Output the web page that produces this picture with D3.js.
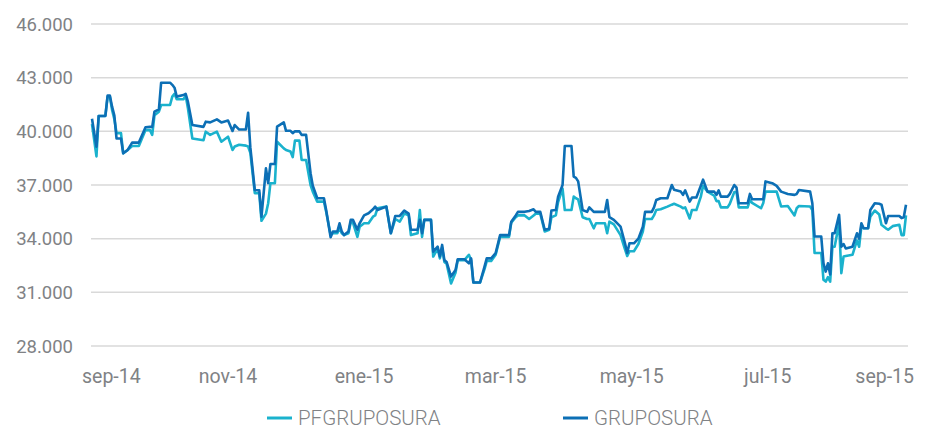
<!DOCTYPE html>
<html>
<head>
<meta charset="utf-8">
<script src="https://cdn.jsdelivr.net/npm/d3@7"></script>
<style>
  body { margin: 0; background: #fff; }
  svg { display: block; font-family: Roboto, "DejaVu Sans", sans-serif; }
  .grid line { stroke: #d9d9d9; stroke-width: 1.5; }
  .y-label { fill: #808285; font-size: 18.5px; }
  .x-label { fill: #808285; font-size: 19.5px; }
  .legend text { fill: #808285; font-size: 20.5px; font-weight: 300; }
</style>
</head>
<body>
<svg width="930" height="431"></svg>
<script>
// dates of the readings and the two price series (COP)
var dates = [
  "2014-09-01","2014-09-03","2014-09-04","2014-09-07","2014-09-08","2014-09-09","2014-09-10","2014-09-11","2014-09-12","2014-09-14",
  "2014-09-15","2014-09-17","2014-09-19","2014-09-22","2014-09-25","2014-09-27","2014-09-28","2014-09-29","2014-10-01","2014-10-02",
  "2014-10-06","2014-10-07","2014-10-08","2014-10-09","2014-10-12","2014-10-13","2014-10-14","2014-10-16","2014-10-21","2014-10-22",
  "2014-10-24","2014-10-27","2014-10-29","2014-11-01","2014-11-03","2014-11-04","2014-11-06","2014-11-09","2014-11-10","2014-11-11",
  "2014-11-13","2014-11-15","2014-11-16","2014-11-18","2014-11-19","2014-11-20","2014-11-22","2014-11-23","2014-11-26","2014-11-27",
  "2014-11-29","2014-11-30","2014-12-01","2014-12-03","2014-12-04","2014-12-06","2014-12-08","2014-12-09","2014-12-11","2014-12-14",
  "2014-12-15","2014-12-17","2014-12-18","2014-12-20","2014-12-21","2014-12-22","2014-12-23","2014-12-25","2014-12-26","2014-12-27",
  "2014-12-29","2014-12-30","2015-01-01","2015-01-03","2015-01-05","2015-01-06","2015-01-07","2015-01-11","2015-01-13","2015-01-15",
  "2015-01-17","2015-01-19","2015-01-21","2015-01-22","2015-01-25","2015-01-26","2015-01-27","2015-01-28","2015-01-31","2015-02-01",
  "2015-02-03","2015-02-04","2015-02-05","2015-02-06","2015-02-07","2015-02-09","2015-02-11","2015-02-12","2015-02-15","2015-02-17",
  "2015-02-18","2015-02-19","2015-02-22","2015-02-24","2015-02-25","2015-02-27","2015-03-01","2015-03-03","2015-03-07","2015-03-08",
  "2015-03-10","2015-03-11","2015-03-14","2015-03-16","2015-03-18","2015-03-19","2015-03-21","2015-03-23","2015-03-25","2015-03-26",
  "2015-03-28","2015-03-29","2015-03-31","2015-04-01","2015-04-04","2015-04-05","2015-04-06","2015-04-07","2015-04-09","2015-04-11",
  "2015-04-12","2015-04-14","2015-04-15","2015-04-19","2015-04-20","2015-04-21","2015-04-23","2015-04-26","2015-04-28","2015-04-29",
  "2015-04-30","2015-05-02","2015-05-04","2015-05-06","2015-05-07","2015-05-10","2015-05-11","2015-05-12","2015-05-14","2015-05-17",
  "2015-05-19","2015-05-20","2015-05-23","2015-05-24","2015-05-25","2015-05-27","2015-05-28","2015-05-30","2015-06-01","2015-06-02",
  "2015-06-04","2015-06-07","2015-06-08","2015-06-09","2015-06-10","2015-06-13","2015-06-14","2015-06-16","2015-06-17","2015-06-18",
  "2015-06-22","2015-06-23","2015-06-24","2015-06-28","2015-06-29","2015-06-30","2015-07-03","2015-07-05","2015-07-07","2015-07-10",
  "2015-07-13","2015-07-14","2015-07-15","2015-07-20","2015-07-21","2015-07-22","2015-07-25","2015-07-26","2015-07-27","2015-07-28",
  "2015-07-29","2015-07-30","2015-07-31","2015-08-02","2015-08-03","2015-08-04","2015-08-05","2015-08-08","2015-08-10","2015-08-11",
  "2015-08-12","2015-08-13","2015-08-15","2015-08-16","2015-08-18","2015-08-20","2015-08-21","2015-08-23","2015-08-24","2015-08-26",
  "2015-08-29","2015-08-30","2015-08-31","2015-09-01"
]

var grupoSura = [
  40700,39140,40860,40860,42000,42000,41380,40900,39600,39600,
  38770,38960,39370,39370,40230,40250,40250,41100,41230,42720,
  42720,42600,42440,41940,42030,42100,41660,40350,40250,40540,
  40500,40670,40500,40600,40020,40350,40100,40100,41040,39100,
  36720,36700,35230,37930,37100,38170,38170,40260,40500,40030,
  40030,39900,40000,40000,39800,39800,37660,36960,36260,36260,
  35600,34080,34400,34400,34860,34400,34200,34400,35050,35050,
  34500,34860,35300,35420,35640,35790,35600,35790,34300,35270,
  35270,35570,35400,34500,34500,35050,34300,35050,35050,33270,
  33550,33000,33650,32800,32700,31880,32250,32850,32850,32620,
  32900,31550,31550,32440,32900,32900,33190,34200,34200,34950,
  35300,35500,35500,35550,35640,35500,35500,34500,34550,35570,
  35600,36350,37000,39180,39180,37470,37400,37200,35600,35500,
  35750,35500,35500,35500,36160,35200,35050,34670,33740,33200,
  33740,33740,34000,34670,35500,35500,35750,36160,36260,36260,
  37000,36730,36630,36450,36700,36070,36300,36300,36960,37300,
  36630,36630,36450,36700,36350,36350,36500,37000,36850,35980,
  35980,36500,36200,36200,36200,37200,37100,36950,36630,36500,
  36450,36500,36720,36630,35980,34120,34120,32620,32160,32620,
  32000,34300,34300,35330,33550,33700,33450,33550,34300,34000,
  34860,34580,34580,35600,35980,35950,35900,34860,35270,35270,
  35270,35150,35200,35900
]

var pfGrupoSura = [
  40400,38600,40860,40860,41950,41950,41200,40700,39900,39900,
  38770,38960,39180,39180,40070,40070,39800,40900,41100,41470,
  41470,41940,42100,41790,41790,42000,41300,39600,39500,39980,
  39800,39980,39420,39700,38960,39150,39250,39200,39150,38800,
  36540,36540,35000,35400,35980,37100,37100,39420,39050,38960,
  38870,38560,39480,39480,38400,38400,37000,36630,36070,36070,
  35500,34200,34300,34300,34600,34300,34200,34300,34900,34900,
  34100,34670,34860,34860,35230,35300,35700,35790,34300,35100,
  34950,35400,35300,34200,34300,35600,34100,35050,35050,33000,
  33450,32900,33500,32700,32600,31500,32100,32800,32800,33100,
  32800,31550,31550,32300,32750,32750,33100,34100,34100,34900,
  35200,35300,35300,35100,35300,35400,35400,34400,34500,35200,
  35300,36050,36800,35600,35600,36350,36260,36200,35200,35100,
  35100,34580,34860,34860,34300,34950,34800,34200,33400,33030,
  33300,33300,33700,34400,35100,35100,35300,35600,35640,35790,
  35900,35950,35790,35700,35750,35130,35600,35600,36350,36960,
  36630,36400,36100,36100,35750,35750,35950,36600,36600,35750,
  35750,36150,36000,35700,36000,36630,36630,36630,35800,35830,
  35300,35700,35830,35800,35600,33200,33200,31700,31600,31850,
  31600,33550,33550,34860,32070,33000,33030,33100,33900,33550,
  34700,34580,34580,35230,35570,35350,34780,34580,34500,34700,
  34780,34200,34200,35300
]

var yTicks = [28000, 31000, 34000, 37000, 40000, 43000, 46000]
var xTickDates = ["2014-09-01","2014-11-01","2015-01-01","2015-03-01","2015-05-01","2015-07-01","2015-09-01"]
var monthNames = ["ene","feb","mar","abr","may","jun","jul","ago","sep","oct","nov","dic"]
var seriesNames = ["PFGRUPOSURA", "GRUPOSURA"]
var seriesColors = ["#1ab2cd", "#0c6fb5"]

var parseDate = d3.timeParse("%Y-%m-%d")
var width = 930, height = 431

var x = d3.scaleTime()
  .domain([parseDate("2014-09-01"), parseDate("2015-09-01")])
  .range([92, 906])

var y = d3.scaleLinear()
  .domain([28000, 46000])
  .range([346, 24])

var svg = d3.select("svg")

// horizontal grid
svg.append("g")
    .attr("class", "grid")
  .selectAll("line")
  .data(yTicks)
  .enter()
  .append("line")
    .attr("x1", 91)
    .attr("x2", 908)
    .attr("y1", d => y(d))
    .attr("y2", d => y(d))

// y labels, thousands with a dot
var fmt = d3.formatLocale({ decimal: ",", thousands: ".", grouping: [3], currency: ["$", ""] }).format(",.0f")
svg.append("g")
  .selectAll("text")
  .data(yTicks)
  .enter()
  .append("text")
    .attr("class", "y-label")
    .attr("x", 73)
    .attr("y", d => y(d) + 6.5)
    .attr("text-anchor", "end")
    .text(d => fmt(d))

// x labels: centred on the month, first and last kept inside
svg.append("g")
  .selectAll("text")
  .data(xTickDates.map(parseDate))
  .enter()
  .append("text")
    .attr("class", "x-label")
    .attr("y", 383)
    .attr("x", function(d, i) {
      if (i === 0) return 82
      if (i === xTickDates.length - 1) return 914
      return x(d)
    })
    .attr("text-anchor", function(d, i) {
      if (i === 0) return "start"
      if (i === xTickDates.length - 1) return "end"
      return "middle"
    })
    .text(d => monthNames[d.getMonth()] + "-" + d3.timeFormat("%y")(d))

// lines
var line = d3.line()
  .x((d, i) => x(parseDate(dates[i])))
  .y(d => y(d))

svg.append("g")
  .selectAll("path")
  .data([pfGrupoSura, grupoSura])
  .enter()
  .append("path")
    .attr("d", line)
    .attr("fill", "none")
    .attr("stroke", (d, i) => seriesColors[i])
    .attr("stroke-width", 2.6)
    .attr("stroke-linejoin", "round")

// legend
var legendX = [267, 563]
var legend = svg.append("g").attr("class", "legend")

legend.selectAll("line")
  .data(seriesNames)
  .enter()
  .append("line")
    .attr("x1", (d, i) => legendX[i])
    .attr("x2", (d, i) => legendX[i] + 25)
    .attr("y1", 418)
    .attr("y2", 418)
    .attr("stroke", (d, i) => seriesColors[i])
    .attr("stroke-width", 3)

legend.selectAll("text")
  .data(seriesNames)
  .enter()
  .append("text")
    .attr("x", (d, i) => legendX[i] + 31)
    .attr("y", 425)
    .text(d => d)
</script>
</body>
</html>
